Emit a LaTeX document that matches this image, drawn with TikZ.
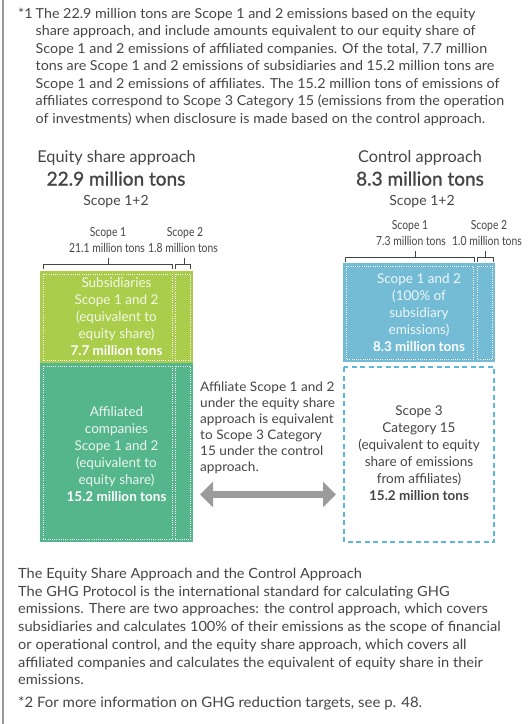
\documentclass[tikz,border=0pt]{standalone}
\usepackage{fontspec}
\setmainfont{Lato}
\newfontfamily\condfont[FakeStretch=0.83]{Lato}
\newfontfamily\medfont[FakeBold=1.2]{Lato}
\newfontfamily\parafont[FakeStretch=1.04]{Lato}
\usetikzlibrary{arrows.meta}
\definecolor{txt}{HTML}{454545}
\definecolor{cLime}{HTML}{AACD4B}
\definecolor{cSea}{HTML}{55B68B}
\definecolor{cSky}{HTML}{74BCD6}
\definecolor{cDash}{HTML}{5DB9D9}
\definecolor{cArrow}{HTML}{9B9B9B}
\definecolor{cRule}{HTML}{9A9A9A}
\tikzset{
  para/.style={anchor=base west, text=txt, inner sep=0, font=\parafont\fontsize{13.75}{16}\selectfont},
  parab/.style={para, font=\parafont\fontsize{14.05}{16}\selectfont},
  parac/.style={para, font=\parafont\fontsize{14.4}{16}\selectfont},
  mid/.style={para, font=\parafont\fontsize{13.1}{16}\selectfont},
  head/.style={anchor=base, text=txt, inner sep=0, font=\fontsize{16.3}{19}\selectfont},
  bighead/.style={anchor=base, text=txt, inner sep=0, font=\medfont\fontsize{19}{22}\selectfont},
  sub/.style={anchor=base, text=txt, inner sep=0, font=\fontsize{14}{17}\selectfont},
  scl/.style={anchor=base, text=txt, inner sep=0, font=\condfont\fontsize{12.5}{13}\selectfont},
  brk/.style={draw=txt, line width=0.8pt},
  boxtext/.style={align=center, inner sep=0, font=\fontsize{13.5}{17}\selectfont},
  dots/.style={draw=white, line width=0.8pt, dash pattern=on 0.8pt off 1.4pt},
}
\begin{document}
\begin{tikzpicture}[x=1pt,y=-1pt]
\useasboundingbox (0,0) rectangle (530,724);
\draw[cRule, line width=1.5pt] (3,0) -- (3,724);

% top note
\node[para] (n1) at (18,18.5) {*1};
\foreach \t [count=\i from 0] in {
 {The 22.9 million tons are Scope 1 and 2 emissions based on the equity},
 {share approach, and include amounts equivalent to our equity share of},
 {Scope 1 and 2 emissions of affiliated companies. Of the total, 7.7 million},
 {tons are Scope 1 and 2 emissions of subsidiaries and 15.2 million tons are},
 {Scope 1 and 2 emissions of affiliates. The 15.2 million tons of emissions of},
 {affiliates correspond to Scope 3 Category 15 (emissions from the operation},
 {of investments) when disclosure is made based on the control approach.}}
 \node[para] (t\i) at (35.5,18.5+17.45*\i) {\t};

% headings
\node[head] (eqh) at (116.5,162) {Equity share approach};
\node[bighead] (eqv) at (116,185.5) {22.9 million tons};
\node[sub] (eqs) at (116,205) {Scope 1+2};
\node[head] (cth) at (420,162) {Control approach};
\node[bighead] (ctv) at (420,185.5) {8.3 million tons};
\node[sub] (cts) at (422,205) {Scope 1+2};

% scope labels left
\node[scl] (ls1) at (108,236) {Scope 1};
\node[scl] (lv1) at (107,252) {21.1 million tons};
\node[scl] (ls2) at (185,236) {Scope 2};
\node[scl] (lv2) at (183,252) {1.8 million tons};
% scope labels right
\node[scl] (rs1) at (410,229) {Scope 1};
\node[scl] (rv1) at (411,245.5) {7.3 million tons};
\node[scl] (rs2) at (489,229) {Scope 2};
\node[scl] (rv2) at (487,245.5) {1.0 million tons};

% brackets
\draw[brk] (43,269) -- (43,264) -- (172,264) -- (172,269);
\draw[brk] (108,264) -- (108,258);
\draw[brk] (175,269) -- (175,264) -- (190,264) -- (190,269);
\draw[brk] (184,264) -- (184,258);
\draw[brk] (345,262) -- (345,257) -- (474,257) -- (474,262);
\draw[brk] (415,257) -- (415,251);
\draw[brk] (477,262) -- (477,257) -- (493,257) -- (493,262);
\draw[brk] (485,257) -- (485,251);

% left boxes
\fill[cLime] (40,271) rectangle (193,363);
\fill[cSea] (40,363) rectangle (193,542);
\draw[dots] (43,274) rectangle (172,360.5);
\draw[dots] (175,274) rectangle (190.5,360.5);
\draw[dots] (43,366) rectangle (172,539.5);
\draw[dots] (175,366) rectangle (190.5,539.5);
\node[boxtext, text=white] (sb) at (116.5,317) {{\color{white!88!cLime}Subsidiaries}\\{\color{white!88!cLime}Scope 1 and 2}\\{\color{white!88!cLime}(equivalent to}\\{\color{white!88!cLime}equity share)}\\\textbf{7.7 million tons}};
\node[boxtext, text=white] (af) at (116.5,454.5) {{\color{white!88!cSea}Affiliated}\\{\color{white!88!cSea}companies}\\{\color{white!88!cSea}Scope 1 and 2}\\{\color{white!88!cSea}(equivalent to}\\{\color{white!88!cSea}equity share)}\\\textbf{15.2 million tons}};

% right boxes
\fill[cSky] (343,263) rectangle (495,362);
\draw[dots] (346,266) rectangle (473,359.5);
\draw[dots] (477,266) rectangle (492.5,359.5);
\node[boxtext, text=white] (cb) at (419,313) {{\color{white!88!cSky}Scope 1 and 2}\\{\color{white!88!cSky}(100\% of}\\{\color{white!88!cSky}subsidiary}\\{\color{white!88!cSky}emissions)}\\\textbf{8.3 million tons}};
\draw[cDash, line width=1.3pt, dash pattern=on 5pt off 3.5pt] (344,367) rectangle (494,542);
\node[boxtext, text=txt] (s3) at (419,453.5) {Scope 3\\Category 15\\(equivalent to equity\\share of emissions\\from affiliates)\\\textbf{15.2 million tons}};

% middle text
\foreach \t [count=\i from 0] in {
 {Affiliate Scope 1 and 2},
 {under the equity share},
 {approach is equivalent},
 {to Scope 3 Category},
 {15 under the control},
 {approach.}}
 \node[mid] (m\i) at (200,391.5+16*\i) {\t};

% double arrow
\coordinate (al) at (200,494.5);
\coordinate (ar) at (336,494.5);
\draw[cArrow, line width=7pt, {Triangle[length=13pt,width=25pt]}-{Triangle[length=13pt,width=25pt]}] (al) -- (ar);

% bottom text
\foreach \t [count=\i from 0] in {
 {The Equity Share Approach and the Control Approach},
 {The GHG Protocol is the international standard for calculating GHG},
 {emissions. There are two approaches: the control approach, which covers},
 {subsidiaries and calculates 100\% of their emissions as the scope of financial},
 {or operational control, and the equity share approach, which covers all},
 {affiliated companies and calculates the equivalent of equity share in their},
 {emissions.}}
 \node[parab] (b\i) at (18,578.5+17.7*\i) {\t};
\node[parac] (b7) at (18,707.5) {*2 For more information on GHG reduction targets, see p. 48.};
\end{tikzpicture}
\end{document}
